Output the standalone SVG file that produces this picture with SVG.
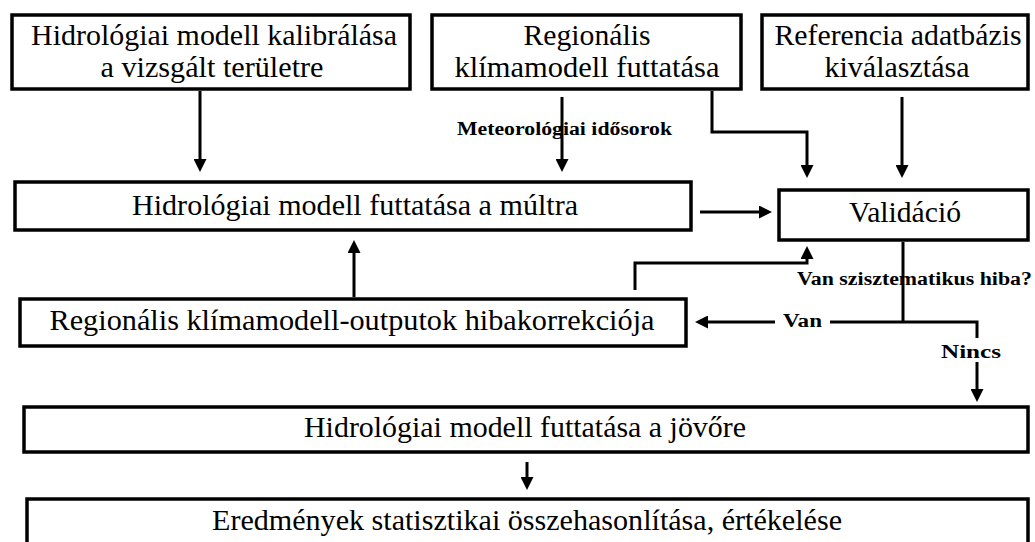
<svg xmlns="http://www.w3.org/2000/svg" width="1035" height="542" viewBox="0 0 1035 542">
<style>
.box{fill:#fff;stroke:#000;stroke-width:3.5}
.t{font-family:"Liberation Serif","Times New Roman",serif;font-size:30px;fill:#000;text-anchor:middle}
.l{font-family:"Liberation Serif","Times New Roman",serif;font-size:18px;font-weight:bold;fill:#000;text-anchor:middle}
.c{fill:none;stroke:#000;stroke-width:3}
</style>
<defs>
<marker id="ah" markerUnits="userSpaceOnUse" markerWidth="14" markerHeight="13" refX="3" refY="6.5" orient="auto">
<path d="M0,0 L13,6.5 L0,13 z" fill="#000"/>
</marker>
</defs>
<rect width="1035" height="542" fill="#fff"/>
<g id="n1"><rect class="box" x="12" y="15" width="398" height="74"/>
<text class="t" x="214" y="45" textLength="366" lengthAdjust="spacingAndGlyphs">Hidrológiai modell kalibrálása</text>
<text class="t" x="212" y="77" textLength="223" lengthAdjust="spacingAndGlyphs">a vizsgált területre</text></g>
<g id="n2"><rect class="box" x="432" y="15" width="309" height="74"/>
<text class="t" x="587" y="45" textLength="127" lengthAdjust="spacingAndGlyphs">Regionális</text>
<text class="t" x="587" y="77" textLength="265" lengthAdjust="spacingAndGlyphs">klímamodell futtatása</text></g>
<g id="n3"><rect class="box" x="762" y="15" width="266" height="74"/>
<text class="t" x="898" y="45" textLength="247" lengthAdjust="spacingAndGlyphs">Referencia adatbázis</text>
<text class="t" x="897" y="77" textLength="145" lengthAdjust="spacingAndGlyphs">kiválasztása</text></g>
<g id="n4"><rect class="box" x="15" y="182" width="676" height="48"/>
<text class="t" x="355" y="215" textLength="446" lengthAdjust="spacingAndGlyphs">Hidrológiai modell futtatása a múltra</text></g>
<g id="n5"><rect class="box" x="779" y="190" width="249" height="50"/>
<text class="t" x="905" y="222" textLength="112" lengthAdjust="spacingAndGlyphs">Validáció</text></g>
<g id="n6"><rect class="box" x="20" y="299" width="666" height="47"/>
<text class="t" x="352" y="330" textLength="605" lengthAdjust="spacingAndGlyphs">Regionális klímamodell-outputok hibakorrekciója</text></g>
<g id="n7"><rect class="box" x="24" y="407" width="1004" height="45"/>
<text class="t" x="525" y="437" textLength="442" lengthAdjust="spacingAndGlyphs">Hidrológiai modell futtatása a jövőre</text></g>
<g id="n8"><rect class="box" x="27" y="499" width="1001" height="60"/>
<text class="t" x="527" y="530" textLength="630" lengthAdjust="spacingAndGlyphs">Eredmények statisztikai összehasonlítása, értékelése</text></g>
<g id="connectors">
<path class="c" d="M200 91 V162" marker-end="url(#ah)"/>
<path class="c" d="M562 97 V162" marker-end="url(#ah)"/>
<path class="c" d="M712 91 V132 H807 V168" marker-end="url(#ah)"/>
<path class="c" d="M902 97 V168" marker-end="url(#ah)"/>
<path class="c" d="M700 212 H762" marker-end="url(#ah)"/>
<path class="c" d="M354 297 V250" marker-end="url(#ah)"/>
<path class="c" d="M635 290 V263 H807 V256" marker-end="url(#ah)"/>
<path class="c" d="M903 242 V322"/>
<path class="c" d="M830 322 H977 V338"/>
<path class="c" d="M775 322 H705" marker-end="url(#ah)"/>
<path class="c" d="M977 362 V392" marker-end="url(#ah)"/>
<path class="c" d="M527 462 V480" marker-end="url(#ah)"/>
<text class="l" x="564.5" y="135" textLength="215" lengthAdjust="spacingAndGlyphs">Meteorológiai idősorok</text>
<text class="l" x="914.5" y="285" textLength="235" lengthAdjust="spacingAndGlyphs">Van szisztematikus hiba?</text>
<text class="l" x="802.5" y="327" textLength="39" lengthAdjust="spacingAndGlyphs">Van</text>
<text class="l" x="971" y="358" textLength="60" lengthAdjust="spacingAndGlyphs">Nincs</text>
</g>
</svg>
